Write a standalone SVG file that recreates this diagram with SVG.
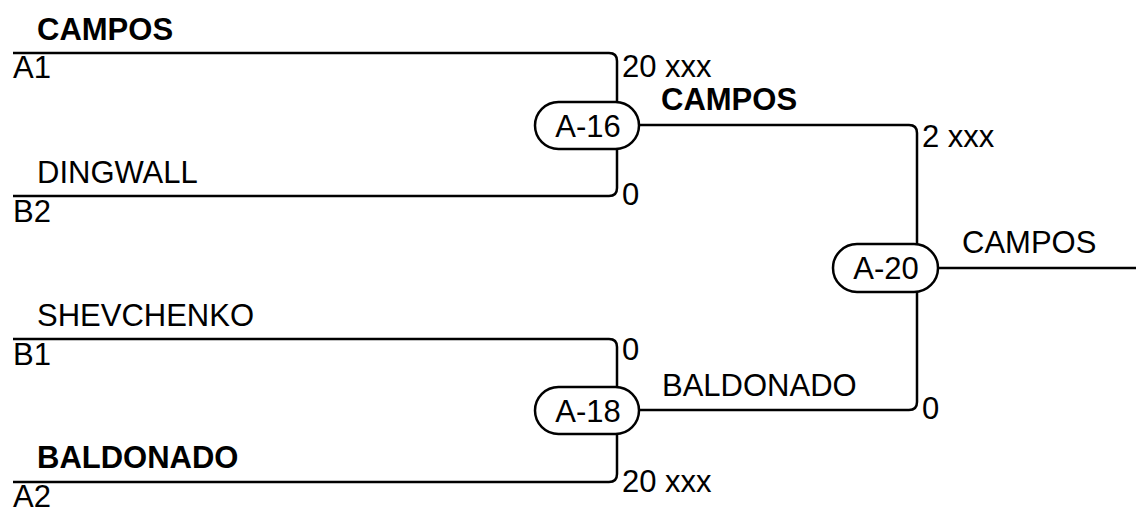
<svg xmlns="http://www.w3.org/2000/svg" width="1136" height="509" viewBox="0 0 1136 509">
<style>
.ln{fill:none;stroke:#000;stroke-width:2.5}
.ov{fill:#fff;stroke:#000;stroke-width:2.5}
text{font-family:"Liberation Sans",Arial,sans-serif;font-size:31px;fill:#000}
.b{font-weight:bold}
.c{text-anchor:middle}
</style>
<rect width="1136" height="509" fill="#fff"/>
<g id="connectors">
<path class="ln" d="M13,53 H609 Q617,53 617,61 V102"/>
<path class="ln" d="M13,196 H609 Q617,196 617,188 V149"/>
<path class="ln" d="M13,339 H609 Q617,339 617,347 V387"/>
<path class="ln" d="M13,482 H609 Q617,482 617,474 V434"/>
<path class="ln" d="M639,125 H909 Q917,125 917,133 V244"/>
<path class="ln" d="M639,410 H909 Q917,410 917,402 V292"/>
<path class="ln" d="M938,268 H1136"/>
</g>
<g id="labels">
<text class="b" x="37" y="40">CAMPOS</text>
<text x="13" y="78">A1</text>
<text x="37" y="183">DINGWALL</text>
<text x="13" y="222">B2</text>
<text x="37" y="326">SHEVCHENKO</text>
<text x="13" y="365">B1</text>
<text class="b" x="37" y="468">BALDONADO</text>
<text x="13" y="507">A2</text>
<text x="622" y="77">20 xxx</text>
<text x="622" y="205">0</text>
<text x="622" y="360">0</text>
<text x="622" y="492">20 xxx</text>
<text class="b" x="661" y="110">CAMPOS</text>
<text x="922" y="147">2 xxx</text>
<text x="662" y="396">BALDONADO</text>
<text x="922" y="419">0</text>
<text x="962" y="253">CAMPOS</text>
</g>
<g id="A-16">
<rect class="ov" x="535" y="102" width="104" height="47" rx="23.5"/>
<text class="c" x="588" y="137">A-16</text>
</g>
<g id="A-18">
<rect class="ov" x="535" y="387" width="104" height="47" rx="23.5"/>
<text class="c" x="588" y="422">A-18</text>
</g>
<g id="A-20">
<rect class="ov" x="833" y="244" width="105" height="48" rx="24"/>
<text class="c" x="886" y="279">A-20</text>
</g>
</svg>
